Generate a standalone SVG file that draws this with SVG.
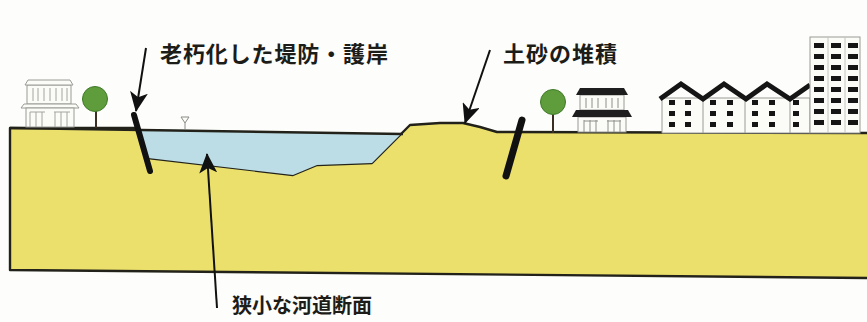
<svg xmlns="http://www.w3.org/2000/svg" width="867" height="322" viewBox="0 0 867 322">
  <style>
    .label { font-family: "Noto Sans CJK JP", "Noto Sans", sans-serif; font-weight: 700; fill: #1c1c18; }
    .edge { stroke: #22221a; stroke-width: 2.4; fill: none; stroke-linejoin: round; }
    .wall { stroke: #111; stroke-linecap: round; }
    .arrow { stroke: #111; stroke-width: 2; fill: none; marker-end: url(#head); }
    .house-line { stroke: #9a9a96; stroke-width: 1; fill: #fbfbf8; }
    .win { fill: #151515; }
    .crown { fill: #5f9c3c; stroke: #3f7a28; stroke-width: 1; }
    .trunk { stroke: #3a2f22; stroke-width: 2; }
  </style>
  <defs>
    <marker id="head" markerUnits="userSpaceOnUse" viewBox="0 0 20 18" refX="19" refY="9" markerWidth="20" markerHeight="18" orient="auto">
      <path d="M0,0 L20,9 L0,18 L5,9 Z" fill="#111"/>
    </marker>
  </defs>

  <rect width="867" height="322" fill="#fdfdfb"/>

  <!-- ground section -->
  <g id="ground">
    <path d="M10,128 L136,128 L148,158 L293,175 L317,165 L372,163 L410,125 L440,123 L463,123 L480,127 L497,132 L867,133 L867,278 L10,270 Z" fill="#ece06c"/>
    <path d="M867,133 L497,132 L480,127 L463,123 L440,123 L410,125 L372,163 L317,165 L293,175 L148,158" class="edge"/>
    <path d="M136,128 L10,128 L10,270 L867,278" class="edge"/>
  </g>

  <!-- river water -->
  <g id="river">
    <path d="M138,129 L401,134 L372,163 L317,165 L293,175 L148,158 Z" fill="#bcdde6"/>
    <line x1="10" y1="128" x2="403" y2="134" class="edge"/>
    <polygon points="181,117 189,117 185,123" fill="#fbfbf8" stroke="#8a8a86" stroke-width="1"/>
    <line x1="185" y1="123" x2="185" y2="129" stroke="#8a8a86" stroke-width="1"/>
  </g>

  <!-- old embankment walls -->
  <g id="wall-left">
    <line x1="134" y1="115" x2="150" y2="171" class="wall" stroke-width="6"/>
  </g>
  <g id="wall-right">
    <line x1="522" y1="120" x2="506" y2="176" class="wall" stroke-width="7"/>
  </g>

  <!-- left house and tree -->
  <g id="house-left">
    <rect x="27" y="85" width="44" height="19" class="house-line"/>
    <polygon points="28,80 70,80 73,85 25,85" class="house-line"/>
    <polygon points="24,104 76,104 79,108 21,108" class="house-line"/>
    <rect x="26" y="108" width="48" height="19" class="house-line"/>
    <path d="M33,88 V101 M38,88 V101 M44,88 V101 M50,88 V101 M56,88 V101 M62,88 V101 M67,88 V101 M30,112 V127 M36,112 V127 M42,112 V127 M55,112 V127 M61,112 V127 M67,112 V127 M30,112 H45 M54,112 H70" stroke="#a4a4a0" stroke-width="1" fill="none"/>
  </g>
  <g id="tree-left">
    <line x1="96" y1="106" x2="96" y2="128" class="trunk"/>
    <circle cx="95" cy="99" r="12.5" class="crown"/>
  </g>

  <!-- right house and tree -->
  <g id="tree-right">
    <line x1="553" y1="110" x2="553" y2="133" class="trunk"/>
    <circle cx="553" cy="102" r="12.5" class="crown"/>
  </g>
  <g id="house-right">
    <rect x="580" y="95" width="44" height="15" class="house-line"/>
    <rect x="578" y="117" width="48" height="15" class="house-line"/>
    <path d="M586,98 V108 M592,98 V108 M598,98 V108 M606,98 V108 M612,98 V108 M618,98 V108 M584,120 V132 M590,120 V132 M596,120 V132 M608,120 V132 M614,120 V132 M620,120 V132 M584,121 H598 M607,121 H621" stroke="#8e8e8a" stroke-width="1" fill="none"/>
    <polygon points="580,88 624,88 628,95 576,95" fill="#1e1e1e"/>
    <polygon points="576,110 628,110 632,117 572,117" fill="#1e1e1e"/>
  </g>

  <!-- row houses -->
  <g id="row-houses">
    <path d="M662,98 H810 V133 H662 Z" fill="#fbfbf8" stroke="#9a9a96" stroke-width="1"/>
    <path d="M703,98 V133 M745,98 V133 M790,98 V133" stroke="#9a9a96" stroke-width="1"/>
    <path d="M660,99 L681,84 L703,99 L724,84 L746,99 L767,84 L790,99 L810,85" stroke="#151515" stroke-width="5" fill="none" stroke-linejoin="miter"/>
    <g class="win">
      <rect x="669" y="100" width="6" height="5"/><rect x="685" y="100" width="6" height="5"/>
      <rect x="669" y="111" width="6" height="5"/><rect x="685" y="111" width="6" height="5"/>
      <rect x="669" y="122" width="6" height="5"/><rect x="685" y="122" width="6" height="5"/>
      <rect x="710" y="100" width="6" height="5"/><rect x="727" y="100" width="6" height="5"/>
      <rect x="710" y="111" width="6" height="5"/><rect x="727" y="111" width="6" height="5"/>
      <rect x="710" y="122" width="6" height="5"/><rect x="727" y="122" width="6" height="5"/>
      <rect x="752" y="100" width="6" height="5"/><rect x="769" y="100" width="6" height="5"/>
      <rect x="752" y="111" width="6" height="5"/><rect x="769" y="111" width="6" height="5"/>
      <rect x="752" y="122" width="6" height="5"/><rect x="769" y="122" width="6" height="5"/>
      <rect x="793" y="100" width="6" height="5"/>
      <rect x="793" y="111" width="6" height="5"/>
      <rect x="793" y="122" width="6" height="5"/>
    </g>
  </g>

  <!-- tower block -->
  <g id="tower">
    <rect x="810" y="37" width="50" height="96" fill="#fbfbf8" stroke="#9a9a96" stroke-width="1"/>
    <path d="M828,37 V133 M845,37 V133" stroke="#c4c4c0" stroke-width="1"/>
    <g class="win">
      <rect x="814" y="43" width="10" height="5"/><rect x="831" y="43" width="10" height="5"/><rect x="848" y="43" width="10" height="5"/>
      <rect x="814" y="54" width="10" height="5"/><rect x="831" y="54" width="10" height="5"/><rect x="848" y="54" width="10" height="5"/>
      <rect x="814" y="65" width="10" height="5"/><rect x="831" y="65" width="10" height="5"/><rect x="848" y="65" width="10" height="5"/>
      <rect x="814" y="76" width="10" height="5"/><rect x="831" y="76" width="10" height="5"/><rect x="848" y="76" width="10" height="5"/>
      <rect x="814" y="87" width="10" height="5"/><rect x="831" y="87" width="10" height="5"/><rect x="848" y="87" width="10" height="5"/>
      <rect x="814" y="98" width="10" height="5"/><rect x="831" y="98" width="10" height="5"/><rect x="848" y="98" width="10" height="5"/>
      <rect x="814" y="109" width="10" height="5"/><rect x="831" y="109" width="10" height="5"/><rect x="848" y="109" width="10" height="5"/>
      <rect x="814" y="120" width="10" height="5"/><rect x="831" y="120" width="10" height="5"/><rect x="848" y="120" width="10" height="5"/>
    </g>
  </g>

  <!-- labels -->
  <g id="label-embankment">
    <text x="160" y="62" class="label" font-size="22" textLength="228" lengthAdjust="spacing">老朽化した堤防・護岸</text>
  </g>
  <g id="label-sediment">
    <text x="503" y="62" class="label" font-size="22" textLength="114" lengthAdjust="spacing">土砂の堆積</text>
  </g>
  <g id="label-channel">
    <text x="232" y="313" class="label" font-size="20" textLength="140" lengthAdjust="spacing">狭小な河道断面</text>
  </g>

  <!-- leader arrows -->
  <g id="connectors">
    <line x1="146" y1="48" x2="136" y2="111" class="arrow"/>
    <line x1="490" y1="50" x2="465" y2="123" class="arrow"/>
    <line x1="217" y1="308" x2="207" y2="154" class="arrow"/>
  </g>
</svg>
